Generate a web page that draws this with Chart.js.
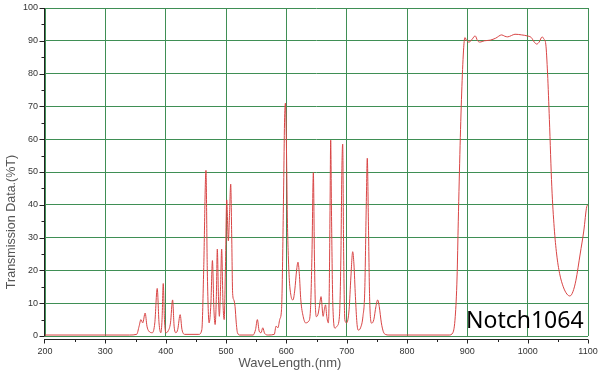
<!DOCTYPE html>
<html><head><meta charset="utf-8">
<script src="https://cdn.jsdelivr.net/npm/chart.js@4"></script>
<style>html,body{margin:0;padding:0;background:#fff}#wrap{width:600px;height:374px}</style>
</head><body><div id="wrap"><canvas id="c" width="600" height="374"></canvas></div>
<script>
// Wavelength (nm)
const wavelengths = [
200,340,352,356,359,362,366,369,372,378,382,386,389,392,394,396,398,400.5,404,408,411.5,414,417,420,424,427,432,
455,460,463,466.8,469,472,475,477.5,480,482,484,485.6,487.5,489,491,492.8,495,497,499,501.2,503.9,506,507.8,509.5,511,513,515,517,519,523,
545,549,552,555,558,561,564,570,580,583,586,589,592,593,595.6,597,598.5,600,601.7,603,605,608,611,614,617,619.3,621.5,624,628,632,
637,640,642.5,644.8,646.5,648,650,653,655.5,657.5,661,663,665,667,669.6,671,672.5,673.5,675,677,680.7,684,688,690.5,692,693.4,695,697,
700,704,707,710,712,714.5,717,719,723,727,730,732.5,734.2,736,738,741.5,745,748.5,751.4,754,757.5,760.8,764,770,
870,876,880,883,885,888,891,894,896,899,903,908,913,917,921,928,938,947,957,962,967,973,979,990,999,1006,1011,1015,1019,1024,1027,
1030,1033,1036,1040,1044,1048,1053,1059,1065,1070,1075,1080,1087,1093,1098,1100
];
// Transmission (%T)
const transmission = [
0.3,0.3,0.5,3,5,4,7,3,1.5,1,4,14.5,4,1,5,16,5,1,1.5,4,11,3,1,2,6.5,2,0.5,
0.5,2,20,50.5,20,4,10,23,8,3.5,12,26.5,12,6,15,26.5,10,5,20,41.5,29,38,46.3,30,13,11,9,4,1,0.3,
0.3,2,5,1.5,1,2.5,0.8,0.3,0.5,3,2.5,5,8,14,46,65,71,60,36,26,17,12,11,14,20,22.5,19,11,5.9,4,
4.5,8,25,49.8,25,10,5.9,7,10,12,6,8,9.5,6,4,12,40,59.7,35,10,2.4,3,6,25,50,58.5,25,4.9,
4,8,18,25.7,22,12,4,1.8,2.5,6,14,40,54.2,35,12,3.9,5,9,11,9,4,1.3,0.5,0.3,
0.3,1,6,18,35,58,76,88,91,90,89.6,90.5,91.5,90,89.6,90,90.2,90.8,91.8,91.4,91.2,91.6,92,91.8,91.5,91,89.6,89,89.6,91.2,90.5,
89,80,66,45.5,33,25,19,15,12.8,12.2,13.5,17,25,32,39.5,40
];
const xTicks = [200,300,400,500,600,700,800,900,1000,1100];
const yTicks = [0,10,20,30,40,50,60,70,80,90,100];
const xTitle = 'WaveLength.(nm)';
const yTitle = 'Transmission Data.(%T)';
const label = 'Notch1064';

const GRID = '#3f8f55';
const AXIS = '#222';

const axisPlugin = {
  id: 'axes',
  afterDraw(chart) {
    const {ctx, chartArea: a, scales: {x, y}} = chart;
    ctx.save();
    ctx.strokeStyle = AXIS; ctx.lineWidth = 1;
    ctx.beginPath();
    const lx = Math.round(a.left) - 0.5;
    ctx.moveTo(lx, a.top); ctx.lineTo(lx, a.bottom + 0.5);
    for (let v = 0; v <= 100; v += 5) {
      const py = Math.round(y.getPixelForValue(v)) + 0.5;
      const len = v % 10 === 0 ? 5 : 3;
      ctx.moveTo(lx, py); ctx.lineTo(lx - len, py);
    }
    const by = Math.round(a.bottom) + 3.5;
    ctx.moveTo(lx - 0.5, by); ctx.lineTo(a.right, by);
    for (let v = 200; v <= 1100; v += 50) {
      let px = Math.round(x.getPixelForValue(v)) + 0.5;
      if (v === 200) px = lx;
      const len = v % 100 === 0 ? 4 : 2.5;
      ctx.moveTo(px, by); ctx.lineTo(px, by + len);
    }
    ctx.stroke();

    ctx.fillStyle = '#555';
    ctx.font = '13px "Liberation Sans", Arial, sans-serif';
    ctx.textAlign = 'center'; ctx.textBaseline = 'middle';
    ctx.fillText(xTitle, 290, 363);
    ctx.save();
    ctx.translate(12, 222);
    ctx.rotate(-Math.PI / 2);
    ctx.font = '12.5px "Liberation Sans", Arial, sans-serif';
    ctx.fillText(yTitle, 0, 0);
    ctx.restore();

    ctx.fillStyle = '#000';
    ctx.font = '23px "Noto Sans", "Open Sans", sans-serif';
    ctx.textAlign = 'left'; ctx.textBaseline = 'alphabetic';
    ctx.fillText(label, 466, 328);
    ctx.restore();
  }
};

const bg = {
  id: 'bg',
  beforeDraw(chart) {
    const ctx = chart.ctx;
    ctx.save(); ctx.fillStyle = '#fff'; ctx.fillRect(0, 0, chart.width, chart.height); ctx.restore();
  }
};

function noPad(s) { s.paddingTop = 0; s.paddingBottom = 0; s.paddingLeft = 0; s.paddingRight = 0; }

new Chart(document.getElementById('c'), {
  type: 'line',
  data: {
    datasets: [{
      data: wavelengths.map((w, i) => ({x: w, y: transmission[i]})),
      borderColor: '#d94545',
      borderWidth: 1,
      pointRadius: 0,
      cubicInterpolationMode: 'monotone',
      fill: false
    }]
  },
  options: {
    responsive: false,
    animation: false,
    devicePixelRatio: 1,
    layout: {padding: {top: 8, right: 12, bottom: 0, left: 0}},
    plugins: {legend: {display: false}, tooltip: {enabled: false}},
    scales: {
      x: {
        type: 'linear', min: 200, max: 1100,
        afterBuildTicks: s => { s.ticks = xTicks.map(v => ({value: v})); },
        afterFit: s => { s.height = 38; noPad(s); },
        grid: {color: GRID, lineWidth: 1, drawTicks: false},
        border: {display: false},
        ticks: {padding: 10, color: '#333', callback: v => String(v), font: {family: '"Liberation Sans", Arial, sans-serif', size: 9}, maxRotation: 0}
      },
      y: {
        type: 'linear', min: 0, max: 100,
        afterBuildTicks: s => { s.ticks = yTicks.map(v => ({value: v})); },
        afterFit: s => { s.width = 45; noPad(s); },
        grid: {color: GRID, lineWidth: 1, drawTicks: false},
        border: {display: false},
        ticks: {padding: 7, color: '#333', callback: v => String(v), font: {family: '"Liberation Sans", Arial, sans-serif', size: 9}}
      }
    }
  },
  plugins: [bg, axisPlugin]
});
</script>
</body></html>
